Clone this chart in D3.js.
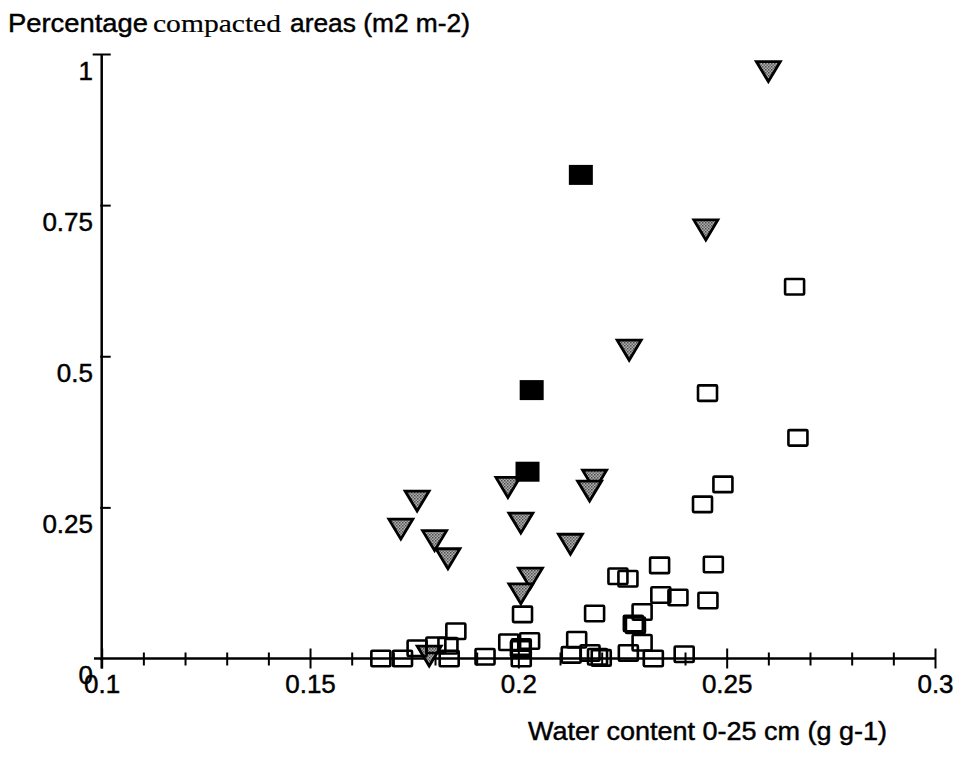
<!DOCTYPE html>
<html>
<head>
<meta charset="utf-8">
<script src="https://cdn.jsdelivr.net/npm/d3@7"></script>
<style>
  html, body { margin: 0; padding: 0; background: #fff; }
  svg { display: block; }
  text { fill: #000; stroke: #000; stroke-width: 0.45px; }
</style>
</head>
<body>
<svg id="chart" width="956" height="758"></svg>
<script>
// Water content (g g-1) vs. percentage compacted areas (m2 m-2)
const triX = [0.260, 0.245, 0.2266, 0.1975, 0.1757, 0.1718, 0.1799, 0.1831, 0.2006, 0.2125, 0.2183, 0.2171, 0.2029, 0.2006, 0.1786];
const triY = [0.971, 0.709, 0.510, 0.283, 0.2605, 0.214, 0.195, 0.165, 0.224, 0.189, 0.295, 0.277, 0.133, 0.107, 0.004];

const fillX = [0.215, 0.2032, 0.2022];
const fillY = [0.800, 0.444, 0.309];

const openX = [0.2663, 0.2454, 0.2671, 0.2491, 0.2442, 0.2468, 0.2339, 0.2455, 0.2342, 0.2383,
               0.2239, 0.2263, 0.2297, 0.2010, 0.2183, 0.2276, 0.2281, 0.2297, 0.2264, 0.2324,
               0.2398, 0.2140, 0.2127, 0.2172, 0.2190, 0.2199, 0.1977, 0.2027, 0.2007, 0.2005,
               0.2007, 0.1670, 0.1722, 0.1757, 0.1802, 0.1831, 0.1834, 0.1850, 0.1920];
const openY = [0.615, 0.439, 0.365, 0.288, 0.255, 0.1555, 0.154, 0.096, 0.105, 0.101,
               0.136, 0.132, 0.077, 0.073, 0.0744, 0.058, 0.055, 0.026, 0.009, 0.0,
               0.007, 0.031, 0.006, 0.009, 0.003, 0.001, 0.027, 0.029, 0.019, 0.016,
               0.0, 0.0, 0.0, 0.017, 0.022, 0.021, 0.0, 0.045, 0.003];

const xMajor = [0.1, 0.15, 0.2, 0.25, 0.3];
const xMajorLabels = ["0.1", "0.15", "0.2", "0.25", "0.3"];
const xMinor = [0.11, 0.12, 0.13, 0.14, 0.16, 0.17, 0.18, 0.19, 0.21, 0.22, 0.23, 0.24, 0.26, 0.27, 0.28, 0.29];
const yTicks = [0, 0.25, 0.5, 0.75, 1];
const yTickLabels = ["0", "0.25", "0.5", "0.75", "1"];

const svg = d3.select("#chart");
const x = d3.scaleLinear().domain([0.1, 0.3]).range([101.7, 935]);
const y = d3.scaleLinear().domain([0, 1]).range([658.5, 54]);

const sans = "'Liberation Sans', Arial, Helvetica, sans-serif";
const serif = "'Liberation Serif', 'Times New Roman', serif";

// stippled grey fill for the triangles
const defs = svg.append("defs");
const pat = defs.append("pattern").attr("id", "stipple")
  .attr("patternUnits", "userSpaceOnUse").attr("width", 3).attr("height", 3);
pat.append("rect").attr("width", 3).attr("height", 3).attr("fill", "#b0b0b0");
pat.append("rect").attr("width", 1.5).attr("height", 1.5).attr("fill", "#4d4d4d");
pat.append("rect").attr("x", 1.5).attr("y", 1.5).attr("width", 1.5).attr("height", 1.5).attr("fill", "#666");

// x axis: line, crossing ticks, labels
const xAxisG = svg.append("g").attr("transform", `translate(0,${y(0)})`);
xAxisG.call(d3.axisBottom(x).tickValues(xMajor).tickFormat((d, i) => xMajorLabels[i]).tickSizeOuter(0));
xAxisG.select(".domain").remove();
xAxisG.selectAll(".tick line").attr("y1", -10).attr("y2", 10).attr("stroke", "#000").attr("stroke-width", 2);
xAxisG.selectAll(".tick text").attr("y", 34).attr("dy", null)
  .attr("font-family", sans).attr("font-size", 26).attr("fill", "#000");

const xMinorG = svg.append("g").attr("transform", `translate(0,${y(0)})`);
xMinorG.call(d3.axisBottom(x).tickValues(xMinor).tickFormat("").tickSizeOuter(0));
xMinorG.select(".domain").remove();
xMinorG.selectAll(".tick line").attr("y1", -6).attr("y2", 7).attr("stroke", "#000").attr("stroke-width", 2);

svg.append("line").attr("x1", 94).attr("x2", x(0.3)).attr("y1", y(0)).attr("y2", y(0))
  .attr("stroke", "#000").attr("stroke-width", 2.5);

// y axis
const yAxisG = svg.append("g").attr("transform", `translate(${x(0.1)},0)`);
yAxisG.call(d3.axisLeft(y).tickValues(yTicks).tickFormat((d, i) => yTickLabels[i]).tickSizeOuter(0));
yAxisG.select(".domain").remove();
yAxisG.selectAll(".tick line")
  .attr("x1", d => d === 1 ? -9 : -1.5).attr("x2", d => d === 0 ? 0 : 9)
  .attr("stroke", "#000").attr("stroke-width", 2);
yAxisG.selectAll(".tick text").attr("x", -8.7).attr("dy", null).attr("y", 25)
  .attr("font-family", sans).attr("font-size", 26).attr("fill", "#000");

svg.append("line").attr("x1", x(0.1)).attr("x2", x(0.1)).attr("y1", y(1)).attr("y2", y(0) + 10)
  .attr("stroke", "#000").attr("stroke-width", 2.5);

// axis titles
svg.append("text").attr("x", 8).attr("y", 32).attr("font-family", sans).attr("font-size", 26)
  .attr("textLength", 140).attr("lengthAdjust", "spacingAndGlyphs").text("Percentage");
svg.append("text").attr("x", 153).attr("y", 32).attr("font-family", serif).attr("font-size", 25)
  .attr("textLength", 128).attr("lengthAdjust", "spacingAndGlyphs")
  .style("stroke-width", "0.2px").text("compacted");
svg.append("text").attr("x", 290).attr("y", 32).attr("font-family", sans).attr("font-size", 26)
  .attr("textLength", 180).attr("lengthAdjust", "spacingAndGlyphs").text("areas (m2 m-2)");

svg.append("text").attr("x", 528).attr("y", 740).attr("font-family", sans).attr("font-size", 26)
  .attr("textLength", 359).attr("lengthAdjust", "spacingAndGlyphs").text("Water content 0-25 cm (g g-1)");

// grey downward triangles
const triW = 24, triH = 20;
svg.append("g").selectAll("path").data(d3.range(triX.length)).join("path")
  .attr("d", i => {
    const cx = x(triX[i]), cy = y(triY[i]);
    return `M${cx - triW / 2},${cy - triH / 2}L${cx + triW / 2},${cy - triH / 2}L${cx},${cy + triH / 2}Z`;
  })
  .attr("fill", "url(#stipple)").attr("stroke", "#000").attr("stroke-width", 2.8)
  .attr("stroke-linejoin", "miter");

// open squares
const oW = 19, oH = 15.5;
svg.append("g").selectAll("rect").data(d3.range(openX.length)).join("rect")
  .attr("x", i => x(openX[i]) - oW / 2).attr("y", i => y(openY[i]) - oH / 2)
  .attr("width", oW).attr("height", oH).attr("rx", 1)
  .attr("fill", "none").attr("stroke", "#000").attr("stroke-width", 2.6);

// filled squares
const fW = 24, fH = 20;
svg.append("g").selectAll("rect").data(d3.range(fillX.length)).join("rect")
  .attr("x", i => x(fillX[i]) - fW / 2).attr("y", i => y(fillY[i]) - fH / 2)
  .attr("width", fW).attr("height", fH).attr("fill", "#000");
</script>
</body>
</html>
